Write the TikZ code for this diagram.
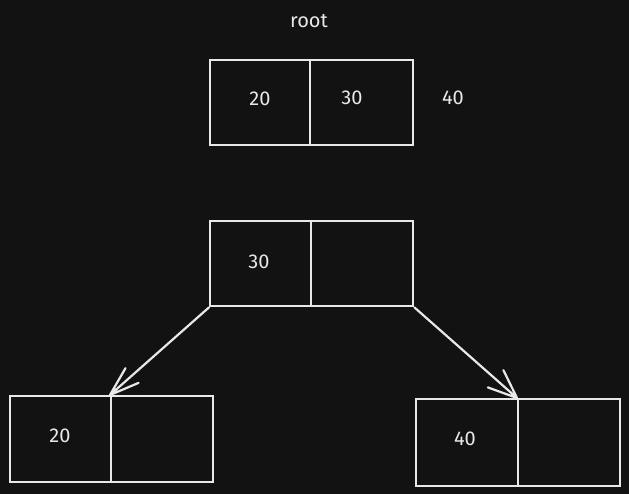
\documentclass[tikz,border=0pt]{standalone}
\usepackage{fontspec}
\setmainfont{Fira Sans}
\definecolor{bg}{HTML}{121212}
\definecolor{ink}{HTML}{E8E8E8}
\begin{document}
\begin{tikzpicture}[x=1pt,y=-1pt,
  cell/.style={draw=ink,line width=2.4pt,minimum height=85pt,inner sep=0pt,anchor=north west},
  lbl/.style={text=ink,font=\fontsize{20}{22}\selectfont},
  link/.style={draw=ink,line width=2.2pt,line cap=round,line join=round}]
\fill[bg] (0,0) rectangle (629,494);
\useasboundingbox (0,0) rectangle (629,494);
% root box
\node[lbl] (rootlbl) at (309,21) {root};
\node[cell,minimum width=100pt] (r1) at (209,59) {};
\node[cell,minimum width=103pt] (r2) at (309,59) {};
\node[lbl] (r1t) at (260,99) {20};
\node[lbl] (r2t) at (352,98) {30};
\node[lbl] (r3t) at (453,98) {40};
% middle box
\node[cell,minimum width=101pt] (m1) at (209,220) {};
\node[cell,minimum width=102pt] (m2) at (310,220) {};
\node[lbl] (m1t) at (259,262) {30};
% left box
\node[cell,minimum width=101pt,minimum height=86pt] (l1) at (9,395) {};
\node[cell,minimum width=102pt,minimum height=86pt] (l2) at (110,395) {};
\node[lbl] (l1t) at (60,436) {20};
% right box
\node[cell,minimum width=102pt,minimum height=87pt] (q1) at (415,398) {};
\node[cell,minimum width=102pt,minimum height=87pt] (q2) at (517,398) {};
\node[lbl] (q1t) at (465,439) {40};
% arrows
\draw[link] (m1.south west) -- (l2.north west) -- ++(-60:31)
  (l2.north west) -- ++(-23:31);
\draw[link] (m2.south east) -- (q2.north west) -- ++(-116:31)
  (q2.north west) -- ++(-160:31);
\end{tikzpicture}
\end{document}
